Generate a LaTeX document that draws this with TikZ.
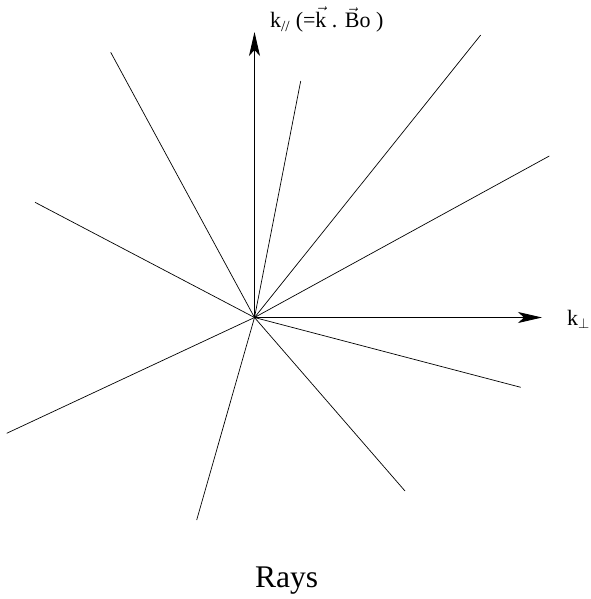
\documentclass[tikz,border=0pt]{standalone}
\usepackage{amsmath}
\usepackage{fontspec}
\setmainfont{Liberation Serif}
\usetikzlibrary{arrows.meta}
\tikzset{
  % Base styles
  rays base/.style={
    x=1pt, y=-1pt,
    every node/.style={inner sep=0pt},
  },
  % Axes and rays
  axis line/.style={-{Stealth[length=24pt,width=11pt,inset=6pt]}, line width=0.8pt},
  ray line/.style={line width=0.7pt},
  % Labels
  axis label/.style={anchor=base west, font=\fontsize{22}{25}\selectfont},
  title label/.style={anchor=base west, font=\fontsize{31.5}{36}\selectfont},
}

\begin{document}
\begin{tikzpicture}[rays base]
\useasboundingbox (0,0) rectangle (590,599);

% Origin and axis ends
\coordinate (O) at (254.5,317.5);
\coordinate (kpar) at (254.5,32);
\coordinate (kperp) at (542,317.5);

% Ray ends (clockwise from top)
\coordinate (r1) at (300.7,81);
\coordinate (r2) at (480.7,35);
\coordinate (r3) at (549.3,156);
\coordinate (r4) at (520.7,387.3);
\coordinate (r5) at (405,491);
\coordinate (r6) at (196.7,520);
\coordinate (r7) at (6.7,433.3);
\coordinate (r8) at (35,202.3);
\coordinate (r9) at (110.7,52.3);

% Axes
\draw[axis line] (O) -- (kpar);
\draw[axis line] (O) -- (kperp);

% Rays
\foreach \r in {r1,r2,r3,r4,r5,r6,r7,r8,r9}
  \draw[ray line] (O) -- (\r);

% Labels
\node[axis label] (lpar) at (270,28) {k\textsubscript{//} (=$\vec{\text{k}}$ . $\vec{\text{B}}$o )};
\node[axis label] (lperp) at (567,325) {k$_\perp$};
\node[title label] (title) at (255,587) {Rays};
\end{tikzpicture}
\end{document}
